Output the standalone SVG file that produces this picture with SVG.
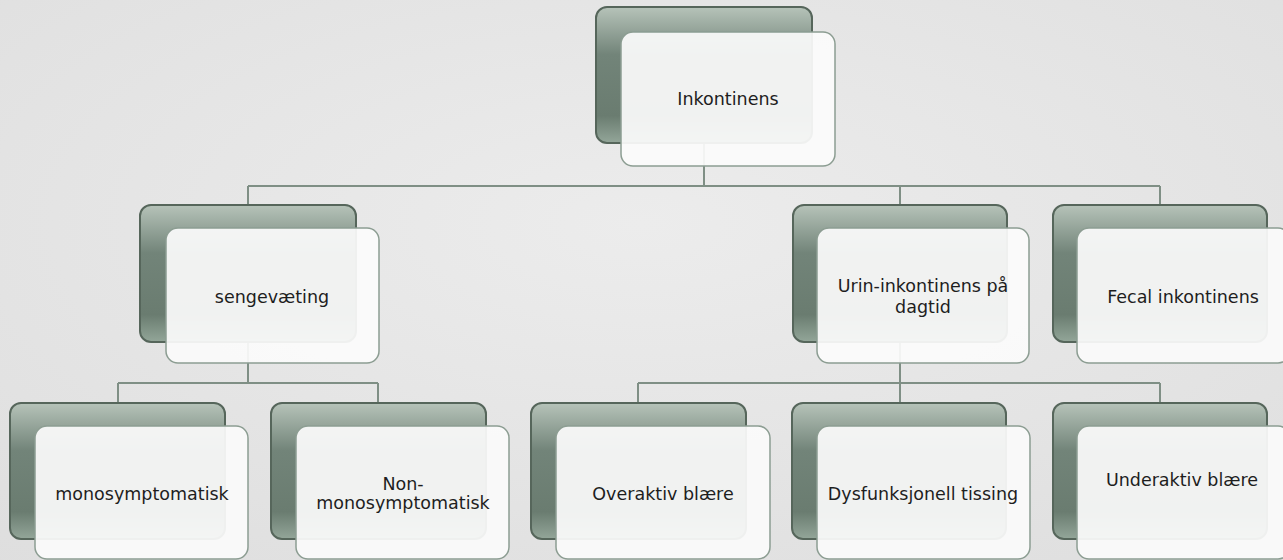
<svg xmlns="http://www.w3.org/2000/svg" width="1283" height="560" viewBox="0 0 1283 560">
<defs>
<linearGradient id="dark" x1="0" y1="0" x2="0" y2="1">
<stop offset="0" stop-color="#b6c3b9"/>
<stop offset="0.35" stop-color="#728479"/>
<stop offset="0.8" stop-color="#6a7c70"/>
<stop offset="1" stop-color="#93a699"/>
</linearGradient>
<radialGradient id="bg" cx="0.5" cy="0.4" r="0.8">
<stop offset="0" stop-color="#ececec"/>
<stop offset="1" stop-color="#dedede"/>
</radialGradient>
<style>
.back{fill:url(#dark);stroke:#56665b;stroke-width:2}
.front{fill:#fbfbfb;fill-opacity:0.93;stroke:#8c9d92;stroke-width:1.5}
.conn{fill:none;stroke:#7f8f85;stroke-width:2}
text{font-family:"DejaVu Sans","Liberation Sans",sans-serif;font-size:17.5px;fill:#1e1e1e;text-anchor:middle}
</style>
</defs>
<rect width="1283" height="560" fill="url(#bg)"/>
<g id="connectors">
<path class="conn" d="M704,143 V186 M248,186 H1160 M248,186 V205 M900,186 V205 M1160,186 V205"/>
<path class="conn" d="M248,342 V383 M118,383 H378 M118,383 V403 M378,383 V403"/>
<path class="conn" d="M900,342 V383 M638,383 H1160 M638,383 V403 M900,383 V403 M1160,383 V403"/>
</g>
<g id="node-inkontinens">
<rect class="back" x="596" y="7" width="216" height="136" rx="11"/>
<rect class="front" x="621" y="32" width="214" height="134" rx="12"/>
<text x="728" y="105">Inkontinens</text>
</g>
<g id="node-sengevaeting">
<rect class="back" x="140" y="205" width="216" height="137" rx="11"/>
<rect class="front" x="166" y="228" width="213" height="135" rx="12"/>
<text x="272" y="303">sengevæting</text>
</g>
<g id="node-urin">
<rect class="back" x="793" y="205" width="214" height="137" rx="11"/>
<rect class="front" x="817" y="228" width="212" height="135" rx="12"/>
<text x="923" y="292">Urin-inkontinens på</text>
<text x="923" y="313">dagtid</text>
</g>
<g id="node-fecal">
<rect class="back" x="1053" y="205" width="214" height="137" rx="11"/>
<rect class="front" x="1077" y="228" width="213" height="135" rx="12"/>
<text x="1183" y="303">Fecal inkontinens</text>
</g>
<g id="node-mono">
<rect class="back" x="10" y="403" width="215" height="136" rx="11"/>
<rect class="front" x="35" y="426" width="213" height="133" rx="12"/>
<text x="142" y="500">monosymptomatisk</text>
</g>
<g id="node-nonmono">
<rect class="back" x="271" y="403" width="215" height="136" rx="11"/>
<rect class="front" x="296" y="426" width="213" height="133" rx="12"/>
<text x="403" y="490">Non-</text>
<text x="403" y="509">monosymptomatisk</text>
</g>
<g id="node-overaktiv">
<rect class="back" x="531" y="403" width="215" height="136" rx="11"/>
<rect class="front" x="556" y="426" width="214" height="133" rx="12"/>
<text x="663" y="500">Overaktiv blære</text>
</g>
<g id="node-dysfunksjonell">
<rect class="back" x="792" y="403" width="214" height="136" rx="11"/>
<rect class="front" x="817" y="426" width="213" height="133" rx="12"/>
<text x="923" y="500">Dysfunksjonell tissing</text>
</g>
<g id="node-underaktiv">
<rect class="back" x="1053" y="403" width="214" height="136" rx="11"/>
<rect class="front" x="1077" y="426" width="213" height="133" rx="12"/>
<text x="1182" y="486">Underaktiv blære</text>
</g>
</svg>
